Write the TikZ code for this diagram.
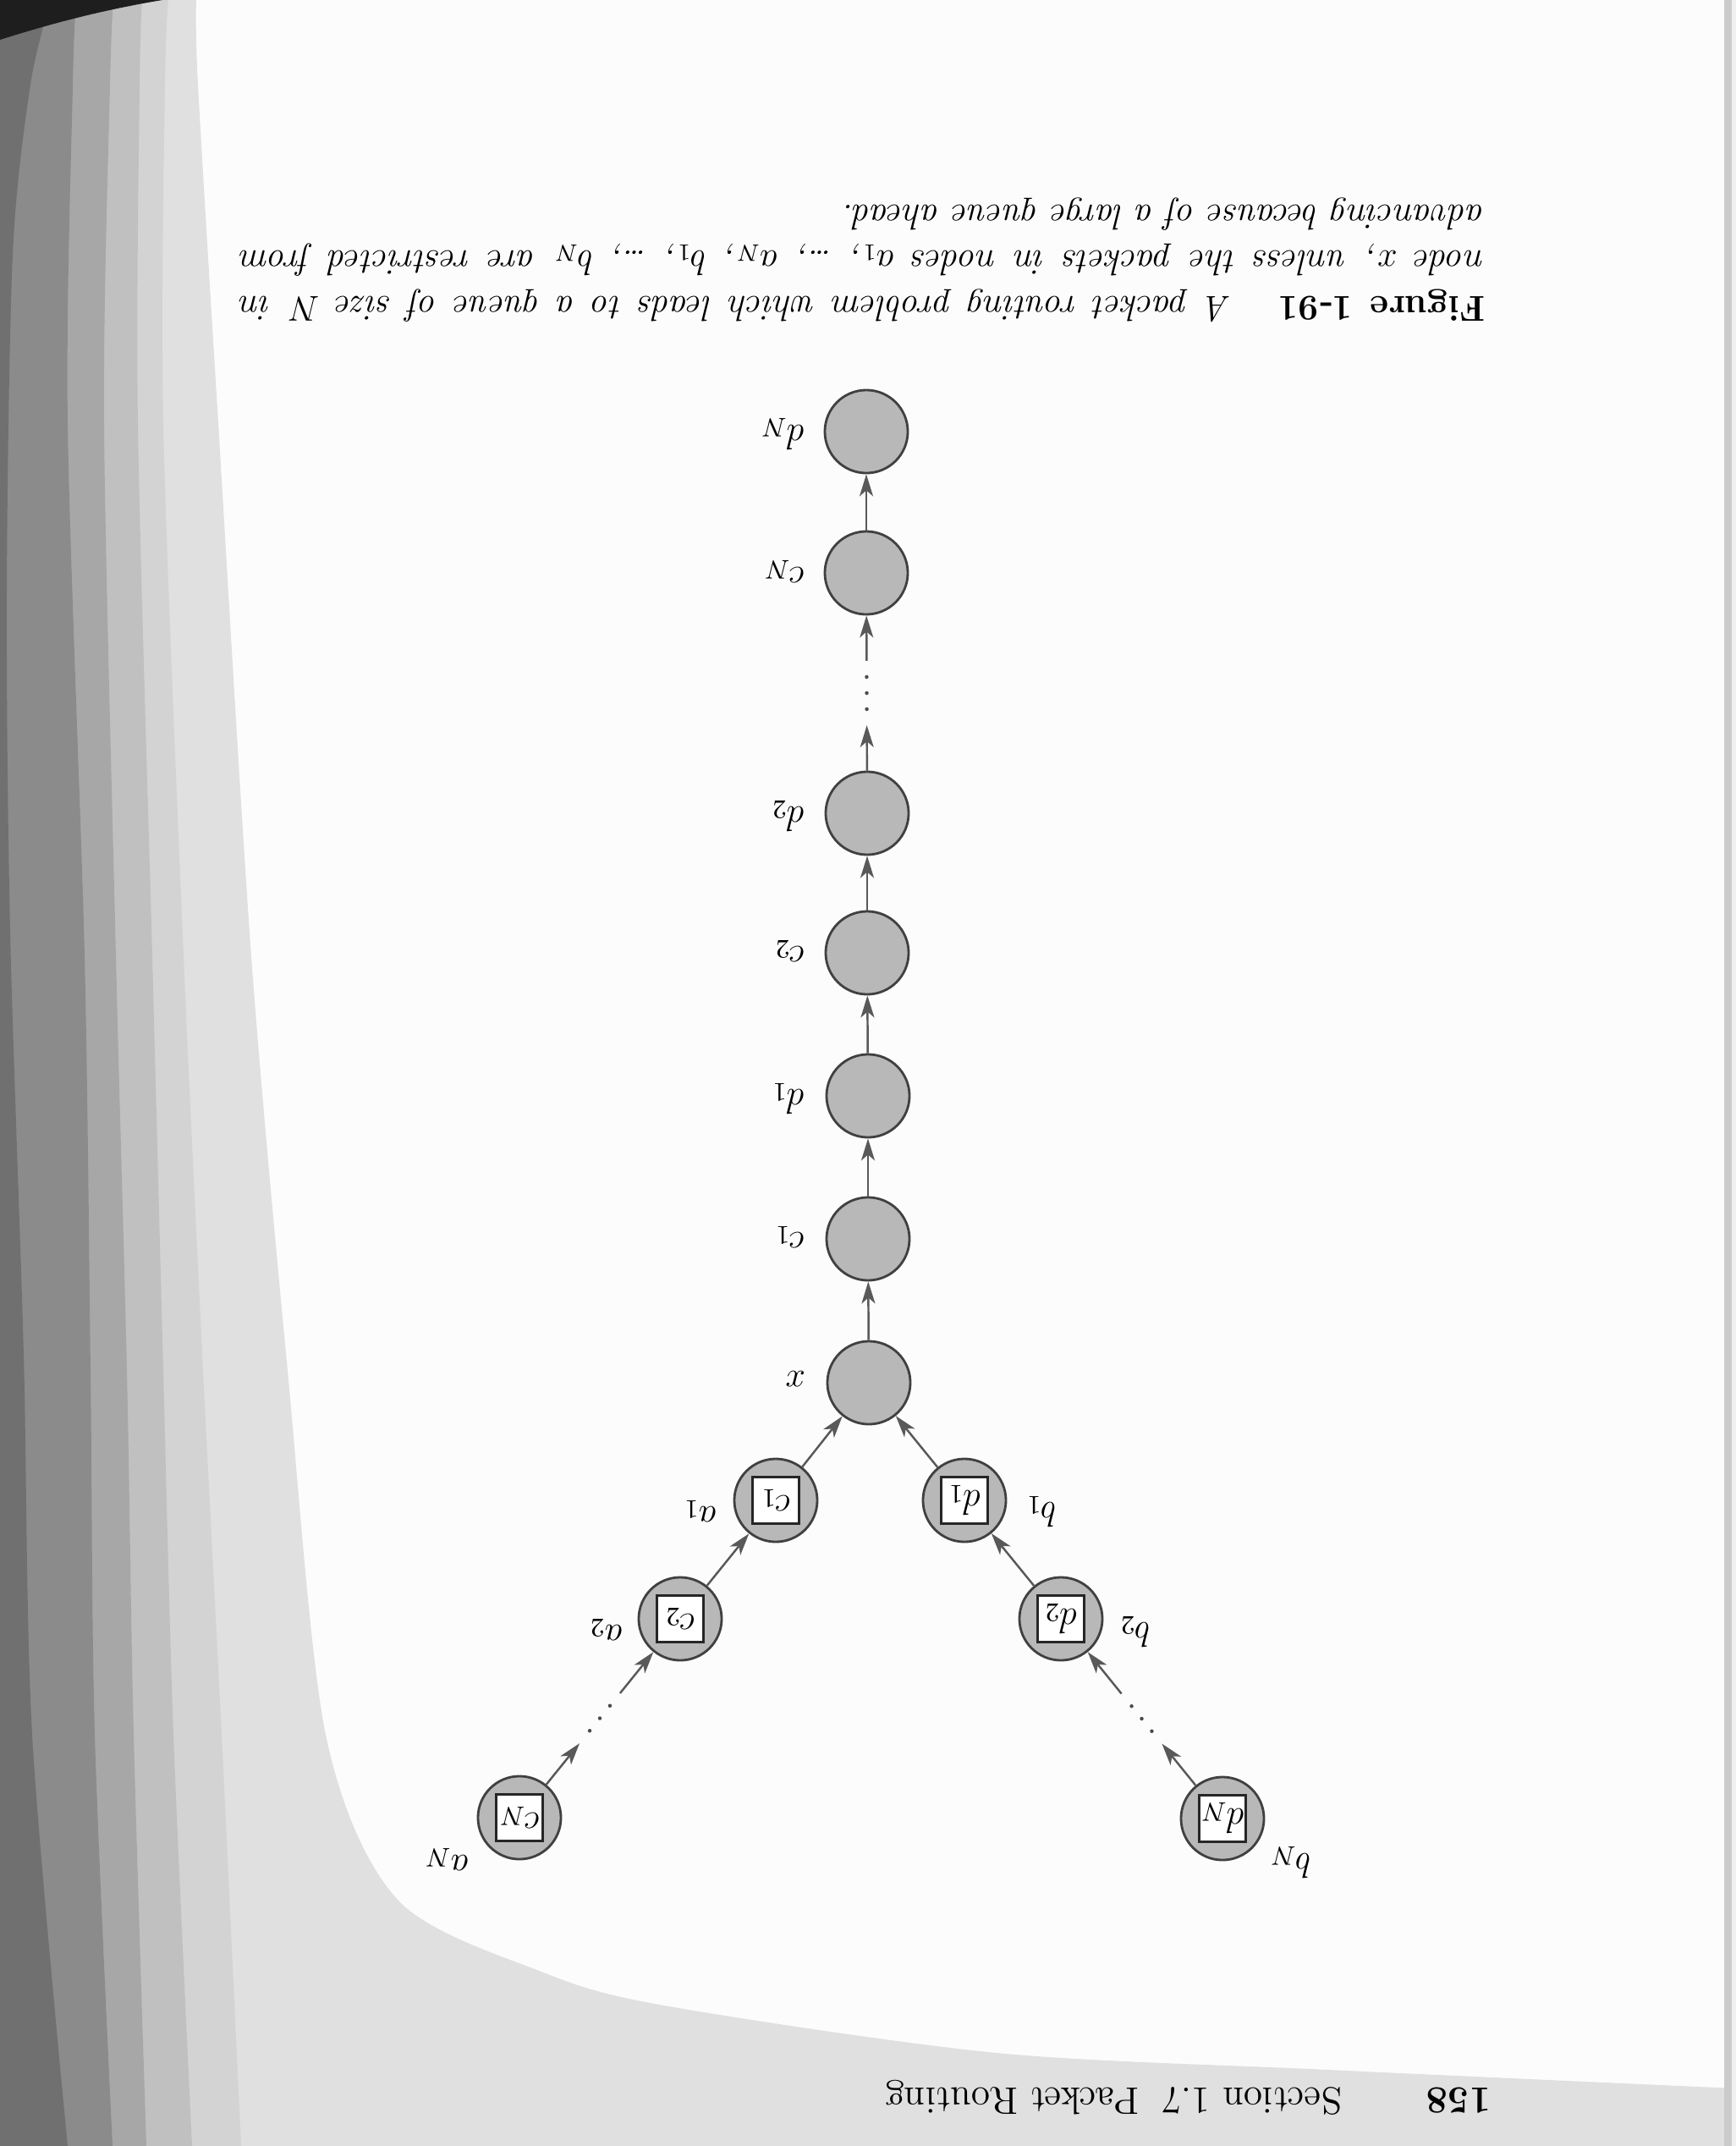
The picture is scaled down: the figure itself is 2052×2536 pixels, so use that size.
\documentclass[tikz,border=0pt]{standalone}
\usepackage{tikz}
\usetikzlibrary{arrows.meta,calc}
\definecolor{paper}{HTML}{FCFCFC}
\definecolor{bandA}{HTML}{707070}
\definecolor{bandB}{HTML}{8B8B8B}
\definecolor{bandC}{HTML}{A7A7A7}
\definecolor{bandD}{HTML}{C0C0C0}
\definecolor{bandE}{HTML}{D3D3D3}
\definecolor{bandF}{HTML}{E0E0E0}
\definecolor{edgeblack}{HTML}{1E1E1E}
\definecolor{rstrip}{HTML}{CBCBCB}
\begin{document}
\begin{tikzpicture}[x=0.01cm,y=-0.01cm,
  pnode/.style={circle, draw=black!75, line width=0.8pt, fill=black!28, minimum size=0.98cm, inner sep=0pt},
  boxlab/.style={draw=black!85, line width=0.8pt, fill=white, minimum size=0.55cm, inner sep=0pt, rotate=180, font=\fontsize{12.5}{14}\selectfont},
  nlab/.style={rotate=180, font=\fontsize{12.5}{14}\selectfont, inner sep=0pt},
  caplab/.style={rotate=180, inner sep=0pt, anchor=base west, font=\fontsize{12.1}{15}\selectfont},
  arr/.style={draw=black!65, line width=0.7pt, -{Stealth[length=0.26cm,width=0.16cm,inset=0.07cm]}},
  dotc/.style={circle, fill=black!70, inner sep=0pt, minimum size=0.045cm},
]
% ---------- page background ----------
\fill[paper] (0,0) rectangle (2052,2536);
\useasboundingbox (0,0) rectangle (2052,2536);
\fill[bandF] (0,0) -- plot[smooth] coordinates {(232,0) (234,100) (258,500) (297,1130) (340,1620) (385,2050) (470,2245) (640,2330) (785,2370) (1178,2426) (1571,2446) (2052,2468)} -- (2052,2536) -- (0,2536) -- cycle;
\fill[bandE] (0,0) -- plot[smooth] coordinates {(199,0) (195,100) (193,500) (217,1130) (240,1620) (262,2050) (285,2536)} -- (0,2536) -- cycle;
\fill[bandD] (0,0) -- plot[smooth] coordinates {(168,0) (165,100) (163,500) (180,1130) (193,1620) (205,2050) (227,2536)} -- (0,2536) -- cycle;
\fill[bandC] (0,0) -- plot[smooth] coordinates {(134,0) (130,100) (123,500) (137,1130) (150,1620) (158,2050) (173,2536)} -- (0,2536) -- cycle;
\fill[bandB] (0,0) -- plot[smooth] coordinates {(90,0) (86,100) (80,500) (100,1130) (107,1620) (112,2050) (133,2536)} -- (0,2536) -- cycle;
\fill[bandA] (0,0) -- plot[smooth] coordinates {(60,0) (36,100) (15,300) (8,700) (12,1100) (28,1600) (38,2050) (80,2536)} -- (0,2536) -- cycle;
\fill[edgeblack] (0,0) -- (192,0) .. controls (120,12) and (60,28) .. (0,47) -- cycle;
\fill[rstrip] (2038,0) rectangle (2047,2536);
\fill[black!6] (2047,0) rectangle (2052,2536);

% ---------- caption (upside down) ----------
\node[caplab] (cap1) at (1756,350) {\makebox[14.71cm][s]{\textbf{Figure 1-91}\hspace{1.3em}\textit{A packet routing problem which leads to a queue of size $N$ in}}};
\node[caplab] (cap2) at (1756,296) {\makebox[14.71cm][s]{\textit{node $x$, unless the packets in nodes $a_1$, \dots, $a_N$, $b_1$, \dots, $b_N$ are restricted from}}};
\node[caplab] (cap3) at (1756,242) {\textit{advancing because of a large queue ahead.}};

% ---------- header (upside down) ----------
\node[rotate=180, inner sep=0pt, anchor=base west, font=\fontsize{12.9}{15}\selectfont\bfseries] (pno) at (1763,2467) {158};
\node[rotate=180, inner sep=0pt, anchor=base west, font=\fontsize{12.9}{15}\selectfont] (hdr) at (1587,2467) {Section 1.7\hspace{0.6em}Packet Routing};

% ---------- main column ----------
\node[pnode] (dN) at (1024,510) {};
\node[pnode] (cN) at (1024,677) {};
\node[pnode] (d2) at (1025,961) {};
\node[pnode] (c2) at (1025,1126) {};
\node[pnode] (d1) at (1026,1295) {};
\node[pnode] (c1) at (1026,1464) {};
\node[pnode] (x)  at (1027,1634) {};

% ---------- branches ----------
\node[pnode] (a1) at (917,1773) {};
\node[pnode] (a2) at (804,1913) {};
\node[pnode] (aN) at (614,2148) {};
\node[pnode] (b1) at (1140,1773) {};
\node[pnode] (b2) at (1254,1913) {};
\node[pnode] (bN) at (1445,2149) {};

\node[boxlab] (a1b) at (a1) {$c_1$};
\node[boxlab] (a2b) at (a2) {$c_2$};
\node[boxlab] (aNb) at (aN) {$c_N$};
\node[boxlab] (b1b) at (b1) {$d_1$};
\node[boxlab] (b2b) at (b2) {$d_2$};
\node[boxlab] (bNb) at (bN) {$d_N$};

% ---------- labels ----------
\node[nlab, anchor=base west] (ldN) at (952,502) {$d_N$};
\node[nlab, anchor=base west] (lcN) at (952,670) {$c_N$};
\node[nlab, anchor=base west] (ld2) at (952,953) {$d_2$};
\node[nlab, anchor=base west] (lc2) at (952,1118) {$c_2$};
\node[nlab, anchor=base west] (ld1) at (952,1287) {$d_1$};
\node[nlab, anchor=base west] (lc1) at (952,1456) {$c_1$};
\node[nlab, anchor=base west] (lx)  at (952,1620) {$x$};
\node[nlab, anchor=base west] (la1) at (848,1780) {$a_1$};
\node[nlab, anchor=base west] (la2) at (737,1920) {$a_2$};
\node[nlab, anchor=base west] (laN) at (555,2192) {$a_N$};
\node[nlab, anchor=base east] (lb1) at (1212,1775) {$b_1$};
\node[nlab, anchor=base east] (lb2) at (1323,1917) {$b_2$};
\node[nlab, anchor=base east] (lbN) at (1500,2190) {$b_N$};

% ---------- connectors ----------
\draw[arr] (x) -- (c1);
\draw[arr] (c1) -- (d1);
\draw[arr] (d1) -- (c2);
\draw[arr] (c2) -- (d2);
\draw[arr] (cN) -- (dN);
\draw[arr] (a1) -- (x);
\draw[arr] (b1) -- (x);
\draw[arr] (a2) -- (a1);
\draw[arr] (b2) -- (b1);

\coordinate (m0) at ($(d2)!0.5!(cN)$);
\coordinate (m0lo) at ($(m0)!0.38cm!(d2)$);
\coordinate (m0hi) at ($(m0)!0.38cm!(cN)$);
\draw[arr] (d2) -- (m0lo);
\draw[arr] (m0hi) -- (cN);
\node[dotc] (m0d1) at ($(m0)!0.19cm!(d2)$) {};
\node[dotc] (m0d2) at (m0) {};
\node[dotc] (m0d3) at ($(m0)!0.19cm!(cN)$) {};

\coordinate (ma) at ($(aN)!0.5!(a2)$);
\coordinate (malo) at ($(ma)!0.38cm!(aN)$);
\coordinate (mahi) at ($(ma)!0.38cm!(a2)$);
\draw[arr] (aN) -- (malo);
\draw[arr] (mahi) -- (a2);
\node[dotc] (mad1) at ($(ma)!0.19cm!(aN)$) {};
\node[dotc] (mad2) at (ma) {};
\node[dotc] (mad3) at ($(ma)!0.19cm!(a2)$) {};

\coordinate (mb) at ($(bN)!0.5!(b2)$);
\coordinate (mblo) at ($(mb)!0.38cm!(bN)$);
\coordinate (mbhi) at ($(mb)!0.38cm!(b2)$);
\draw[arr] (bN) -- (mblo);
\draw[arr] (mbhi) -- (b2);
\node[dotc] (mbd1) at ($(mb)!0.19cm!(bN)$) {};
\node[dotc] (mbd2) at (mb) {};
\node[dotc] (mbd3) at ($(mb)!0.19cm!(b2)$) {};
\end{tikzpicture}
\end{document}
